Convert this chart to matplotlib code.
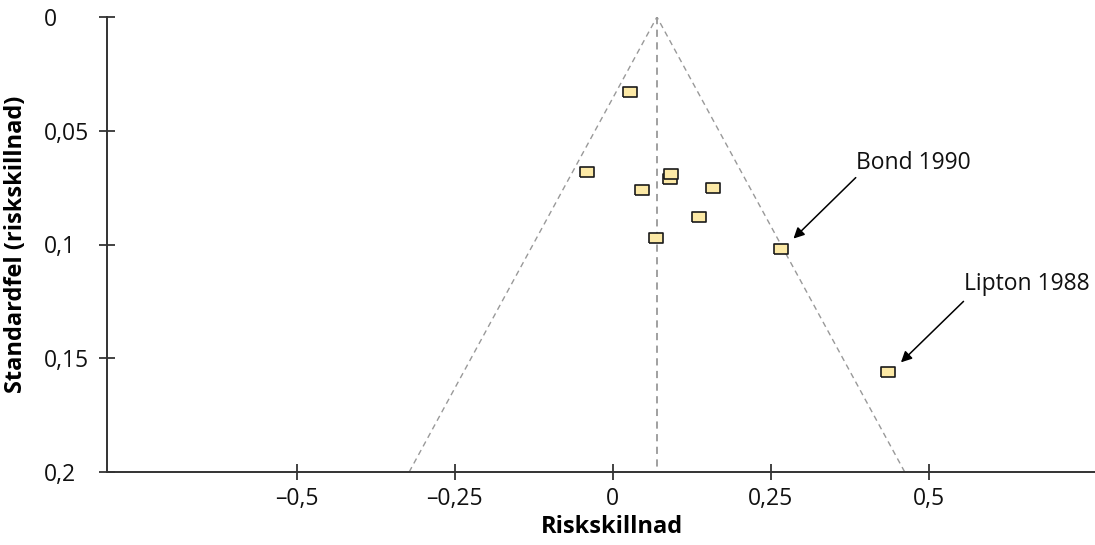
import numpy as np
import matplotlib
matplotlib.use('Agg')
import matplotlib.pyplot as plt

plt.rcParams['font.family'] = ['Open Sans', 'DejaVu Sans']

# studier: riskskillnad och standardfel
risk_diff = [0.028, -0.040, 0.046, 0.090, 0.093, 0.159, 0.137, 0.069, 0.266, 0.436]
std_err = [0.033, 0.068, 0.076, 0.071, 0.069, 0.075, 0.088, 0.097, 0.102, 0.156]

pooled = 0.07
se_max = 0.2

x_ticks = [-0.5, -0.25, 0, 0.25, 0.5]
x_labels = ['\u20130,5', '\u20130,25', '0', '0,25', '0,5']
y_ticks = [0, 0.05, 0.1, 0.15, 0.2]
y_labels = ['0', '0,05', '0,1', '0,15', '0,2']

W, H = 1095, 545
fig = plt.figure(figsize=(W / 100, H / 100), dpi=100)
ax = fig.add_axes([107 / W, (H - 472) / H, (W - 107) / W, (472 - 17) / H])

# trattens linjer
ax.plot([pooled, pooled], [0, se_max], color='#999999', lw=1.3, ls=(0, (4, 3)), zorder=1)
ax.plot([pooled - 1.96 * se_max, pooled, pooled + 1.96 * se_max], [se_max, 0, se_max],
        color='#999999', lw=1.0, ls=(0, (4, 3)), zorder=1)

rect = [(-1, -0.72), (1, -0.72), (1, 0.72), (-1, 0.72), (-1, -0.72)]
ax.plot(risk_diff, std_err, ls='none', marker=rect, markersize=10.5,
        markerfacecolor='#fce9a6', markeredgecolor='#1a1a1a', markeredgewidth=1.2, zorder=3)

ax.set_xlim(-0.8, 0.763)
ax.set_ylim(0.2, 0)

for s in ['top', 'right']:
    ax.spines[s].set_visible(False)
for s in ['left', 'bottom']:
    ax.spines[s].set_color('#333333')
    ax.spines[s].set_linewidth(1.4)

ax.set_xticks(x_ticks)
ax.set_xticklabels(x_labels)
ax.set_yticks(y_ticks)
ax.set_yticklabels(y_labels)
ax.tick_params(axis='both', direction='inout', length=11, width=1.2, color='#222222',
               labelsize=16.5, labelcolor='#111111')
ax.tick_params(axis='x', pad=5)
ax.tick_params(axis='y', pad=40)
for lab in ax.get_yticklabels():
    lab.set_horizontalalignment('left')

ax.set_xlabel('Riskskillnad', fontsize=17, fontweight='bold')
ax.xaxis.set_label_coords((612 - 107) / (W - 107), -0.094)
ax.set_ylabel('Standardfel (riskskillnad)', fontsize=17, fontweight='bold')
ax.yaxis.set_label_coords(-0.080, 0.5)

ax.text(0.3845, 0.064, 'Bond 1990', fontsize=16.5, ha='left', va='center', color='#111111')
ax.annotate('', xy=(0.286, 0.0974), xytext=(0.3845, 0.0706),
            arrowprops=dict(arrowstyle='-|>', color='black', lw=1.1, mutation_scale=16,
                            shrinkA=0, shrinkB=0))
ax.text(0.555, 0.1175, 'Lipton 1988', fontsize=16.5, ha='left', va='center', color='#111111')
ax.annotate('', xy=(0.456, 0.1518), xytext=(0.555, 0.125),
            arrowprops=dict(arrowstyle='-|>', color='black', lw=1.1, mutation_scale=16,
                            shrinkA=0, shrinkB=0))

fig.savefig('out.png', dpi=100)
